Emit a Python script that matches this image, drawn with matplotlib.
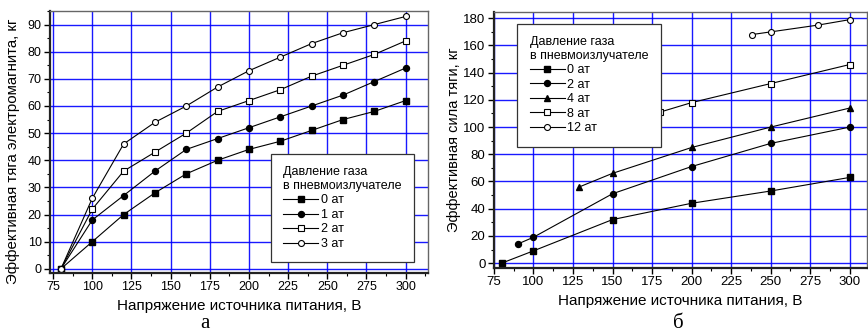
import matplotlib.pyplot as plt
from matplotlib.ticker import MultipleLocator

plt.rcParams['font.family'] = ['Liberation Sans', 'DejaVu Sans']

# --- панель а: тяга электромагнита ---
u_a = [80, 100, 120, 140, 160, 180, 200, 220, 240, 260, 280, 300]
f_a_0 = [0, 10, 20, 28, 35, 40, 44, 47, 51, 55, 58, 62]
f_a_1 = [0, 18, 27, 36, 44, 48, 52, 56, 60, 64, 69, 74]
f_a_2 = [0, 22, 36, 43, 50, 58, 62, 66, 71, 75, 79, 84]
f_a_3 = [0, 26, 46, 54, 60, 67, 73, 78, 83, 87, 90, 93]
labels_a = ['0 ат', '1 ат', '2 ат', '3 ат']

# --- панель б: сила тяги ---
u_b_0 = [80, 100, 150, 200, 250, 300]
f_b_0 = [0, 9, 32, 44, 53, 63]
u_b_2 = [90, 100, 150, 200, 250, 300]
f_b_2 = [14, 19, 51, 71, 88, 100]
u_b_4 = [129, 150, 200, 250, 300]
f_b_4 = [56, 66, 85, 100, 114]
u_b_8 = [180, 200, 250, 300]
f_b_8 = [111, 118, 132, 146]
u_b_12 = [238, 250, 280, 300]
f_b_12 = [168, 170, 175, 179]
labels_b = ['0 ат', '2 ат', '4 ат', '8 ат', '12 ат']

legend_title = 'Давление газа\nв пневмоизлучателе'
xlabel = 'Напряжение источника питания, В'

styles = {
    'sq': dict(marker='s', mfc='black', mec='black', ms=4),
    'ci': dict(marker='o', mfc='black', mec='black', ms=4.3),
    'tr': dict(marker='^', mfc='black', mec='black', ms=5),
    'osq': dict(marker='s', mfc='white', mec='black', ms=4, mew=0.8),
    'oci': dict(marker='o', mfc='white', mec='black', ms=4.3, mew=0.8),
}


def style_axes(ax, xlim, ylim, ymajor, yminor, tick_size):
    ax.set_xlim(*xlim)
    ax.set_ylim(*ylim)
    ax.xaxis.set_major_locator(MultipleLocator(25))
    ax.xaxis.set_minor_locator(MultipleLocator(12.5))
    ax.yaxis.set_major_locator(MultipleLocator(ymajor))
    ax.yaxis.set_minor_locator(MultipleLocator(yminor))
    ax.grid(True, which='major', color='#0000ff', lw=1.0, alpha=0.9)
    ax.set_axisbelow(True)
    ax.tick_params(which='major', direction='out', length=4, width=1,
                   labelsize=tick_size, pad=2)
    ax.tick_params(which='minor', direction='out', length=2.5, width=0.8)
    for s in ['left', 'bottom']:
        ax.spines[s].set_linewidth(1.6)
        ax.spines[s].set_color('#222222')
    for s in ['top', 'right']:
        ax.spines[s].set_linewidth(1.0)
        ax.spines[s].set_color('#666666')
    ax.set_xlabel(xlabel, fontsize=11, labelpad=4)


def add_legend(ax, loc):
    leg = ax.legend(title=legend_title, loc=loc, fontsize=9,
                    title_fontsize=9, alignment='left', handlelength=2.8,
                    handletextpad=0.2, labelspacing=0.2, borderpad=1.0,
                    fancybox=False, framealpha=1, edgecolor='#333333',
                    borderaxespad=0)
    leg.get_frame().set_linewidth(0.9)
    return leg


fig = plt.figure(figsize=(8.68, 3.34), dpi=100)
ax1 = fig.add_axes([0.0576, 0.183, 0.435, 0.784])
ax2 = fig.add_axes([0.569, 0.198, 0.430, 0.766])

line_kw = dict(color='black', lw=0.8)
ax1.plot(u_a, f_a_0, label=labels_a[0], **line_kw, **styles['sq'])
ax1.plot(u_a, f_a_1, label=labels_a[1], **line_kw, **styles['ci'])
ax1.plot(u_a, f_a_2, label=labels_a[2], **line_kw, **styles['osq'])
ax1.plot(u_a, f_a_3, label=labels_a[3], **line_kw, **styles['oci'])
style_axes(ax1, (73, 314), (-1.5, 95), 10, 5, 9)
ax1.set_ylabel('Эффективная тяга электромагнита, кг', fontsize=10.8)
ax1.yaxis.set_label_coords(-0.08, 0.466)
leg1 = add_legend(ax1, 'lower right')
leg1.set_bbox_to_anchor((0.965, 0.04), transform=ax1.transAxes)

ax2.plot(u_b_0, f_b_0, label=labels_b[0], **line_kw, **styles['sq'])
ax2.plot(u_b_2, f_b_2, label=labels_b[1], **line_kw, **styles['ci'])
ax2.plot(u_b_4, f_b_4, label=labels_b[2], **line_kw, **styles['tr'])
ax2.plot(u_b_8, f_b_8, label=labels_b[3], **line_kw, **styles['osq'])
ax2.plot(u_b_12, f_b_12, label=labels_b[4], **line_kw, **styles['oci'])
style_axes(ax2, (75, 311), (-3.5, 184.6), 20, 10, 9.5)
ax2.set_ylabel('Эффективная сила тяги, кг', fontsize=10.5, labelpad=2)
leg2 = add_legend(ax2, 'upper left')
leg2.set_bbox_to_anchor((0.062, 0.955), transform=ax2.transAxes)

fig.text(0.236, 0.032, 'а', fontsize=15, family='Liberation Serif',
         ha='center', va='center')
fig.text(0.782, 0.032, 'б', fontsize=15, family='Liberation Serif',
         ha='center', va='center')

fig.savefig('out.png', dpi=100)
